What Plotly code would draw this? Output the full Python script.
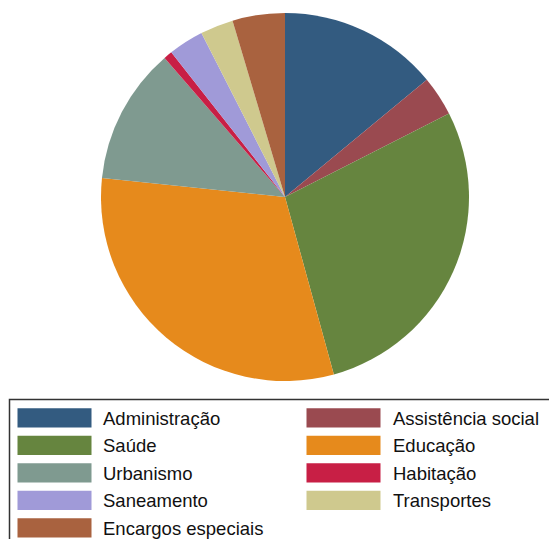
import plotly.graph_objects as go

# Budget shares by function (percent of total spending)
labels = ["Administração", "Assistência social", "Saúde", "Educação", "Urbanismo",
          "Habitação", "Saneamento", "Transportes", "Encargos especiais"]
shares = [14.0, 3.5, 28.2, 30.9, 12.0, 0.75, 3.1, 2.9, 4.6]
colors = ["#335b80", "#9a4a50", "#66853f", "#e68a1c", "#7f9a90",
          "#c81f45", "#a09ad8", "#cfc98e", "#a9623f"]

W, H = 549, 539

fig = go.Figure(go.Pie(
    labels=labels,
    values=shares,
    sort=False,
    direction="clockwise",
    rotation=0,
    textinfo="none",
    hoverinfo="label+percent",
    marker=dict(colors=colors, line=dict(width=0)),
    showlegend=False,
    domain=dict(x=[101 / W, 469 / W], y=[1 - 381 / H, 1 - 13 / H]),
))

# Two-column legend box below the pie (row-major order)
def px(x):
    return x / W

def py(y):
    return 1 - y / H

shapes = [dict(type="rect", xref="paper", yref="paper",
               x0=px(9.5), x1=px(560), y0=py(399.5), y1=py(560),
               line=dict(color="#333333", width=1.5), fillcolor="rgba(0,0,0,0)")]
annotations = []
col_x = [(17.5, 91.5, 103), (306.5, 380.5, 393)]
row_top = 408.3
row_pitch = 27.5
sw_h = 19.3
for i, (lab, col) in enumerate(zip(labels, colors)):
    r, c = divmod(i, 2)
    x0, x1, tx = col_x[c]
    top = row_top + r * row_pitch
    shapes.append(dict(type="rect", xref="paper", yref="paper",
                       x0=px(x0), x1=px(x1), y0=py(top + sw_h), y1=py(top),
                       line=dict(width=0), fillcolor=col))
    annotations.append(dict(xref="paper", yref="paper", x=px(tx - 2), y=py(top + sw_h / 2 + 0.5),
                            text=lab, showarrow=False, xanchor="left", yanchor="middle",
                            font=dict(family="Liberation Sans, Arial", size=18.5, color="#111111")))

fig.update_layout(
    width=W, height=H,
    margin=dict(l=0, r=0, t=0, b=0),
    paper_bgcolor="white",
    plot_bgcolor="white",
    shapes=shapes,
    annotations=annotations,
)

fig.write_html("out.html")
